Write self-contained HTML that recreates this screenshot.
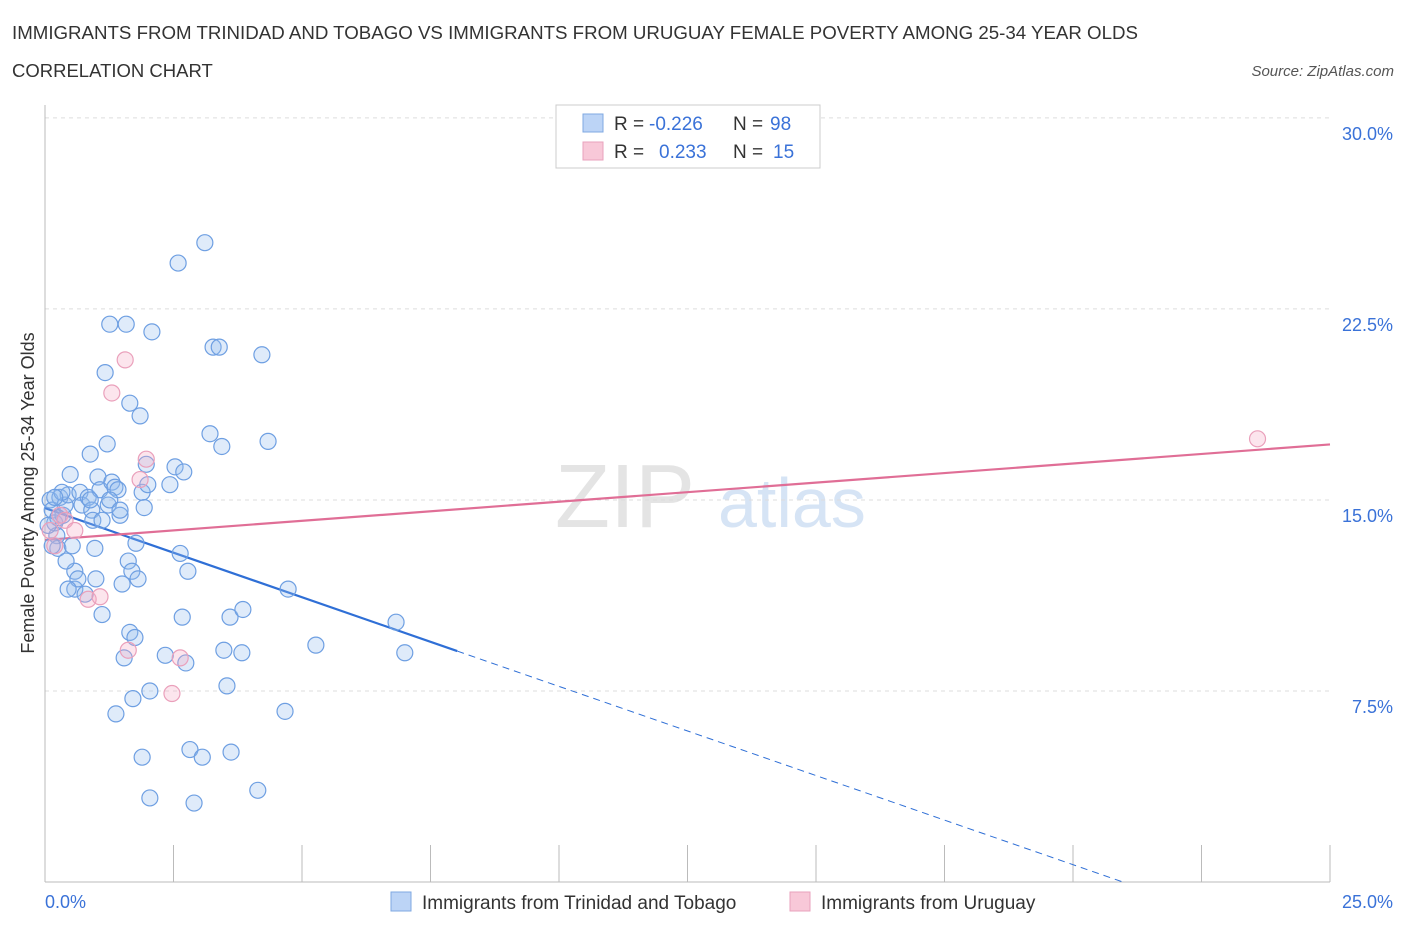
<!DOCTYPE html>
<html><head><meta charset="utf-8"><style>
body{margin:0;background:#fff;font-family:"Liberation Sans",sans-serif;}
svg text{font-family:"Liberation Sans",sans-serif;}
</style></head><body>
<svg id="chart" width="1406" height="930">
<text x="12" y="39" font-size="18.7" fill="#333">IMMIGRANTS FROM TRINIDAD AND TOBAGO VS IMMIGRANTS FROM URUGUAY FEMALE POVERTY AMONG 25-34 YEAR OLDS</text>
<text x="12" y="77" font-size="18.5" fill="#333">CORRELATION CHART</text>
<text x="1394" y="76" font-size="15" fill="#555" font-style="italic" text-anchor="end">Source: ZipAtlas.com</text>
<g><text x="555" y="527" font-size="90" fill="#e4e4e4" font-family="Liberation Serif">ZIP</text><text x="718" y="527" font-size="70" fill="#d6e4f5">atlas</text></g>
<g id="grid"></g><g id="axes"></g><g id="lines"></g><g id="pts"></g>
<text transform="translate(34,493) rotate(-90)" font-size="18" fill="#333" text-anchor="middle">Female Poverty Among 25-34 Year Olds</text>
<g>
<rect x="556" y="105" width="264" height="63" fill="#fff" stroke="#ccc"/>
<rect x="583" y="114" width="20" height="18" fill="#bcd4f6" stroke="#7fa8e2"/>
<rect x="583" y="142" width="20" height="18" fill="#f8c8d8" stroke="#e8a2bc"/>
<text x="614" y="130" font-size="19" fill="#333">R =</text>
<text x="649" y="130" font-size="19" fill="#3a72d8">-0.226</text>
<text x="733" y="130" font-size="19" fill="#333">N =</text>
<text x="770" y="130" font-size="19" fill="#3a72d8">98</text>
<text x="614" y="158" font-size="19" fill="#333">R =</text>
<text x="659" y="158" font-size="19" fill="#3a72d8">0.233</text>
<text x="733" y="158" font-size="19" fill="#333">N =</text>
<text x="773" y="158" font-size="19" fill="#3a72d8">15</text>
</g>
<g>
<rect x="391" y="892" width="20" height="19" fill="#bcd4f6" stroke="#7fa8e2"/>
<text x="422" y="909" font-size="19" fill="#333">Immigrants from Trinidad and Tobago</text>
<rect x="790" y="892" width="20" height="19" fill="#f8c8d8" stroke="#e8a2bc"/>
<text x="821" y="909" font-size="19" fill="#333">Immigrants from Uruguay</text>
</g>
</svg>
<script>
const yTicks=[7.5,15,22.5,30];
const yTickLabels=["7.5%","15.0%","22.5%","30.0%"];
const xTickLabels=["0.0%","25.0%"];
const blueX=[.10,.14,.19,.23,.25,.29,.35,.39,.45,.49,.53,.58,.58,.64,.68,.72,.78,.84,.88,.91,.97,.99,1.03,1.07,1.11,1.17,1.21,1.23,1.26,1.30,1.36,1.42,1.46,1.50,1.54,1.58,1.62,1.65,1.65,1.69,1.75,1.77,1.81,1.85,1.89,1.93,1.97,2.00,2.04,2.08,1.38,1.71,1.89,2.04,2.34,2.43,2.53,2.59,2.63,2.67,2.70,2.74,2.78,2.82,2.90,3.06,3.11,3.21,3.27,3.39,3.44,3.48,3.54,3.60,3.62,3.83,3.85,4.14,4.22,4.34,4.67,4.73,5.27,6.83,7.00,.14,.25,.33,.41,.88,.93,1.11,1.26,1.46,.45,.19,.06];
const blueY=[15.0,14.6,14.1,13.6,13.1,15.1,14.4,14.8,15.2,16.0,13.2,12.2,11.5,11.9,15.3,14.8,11.3,15.1,16.8,14.6,13.1,11.9,15.9,15.4,10.5,20.0,17.2,14.8,21.9,15.7,15.5,15.4,14.4,11.7,8.8,21.9,12.6,18.8,9.8,12.2,9.6,13.3,11.9,18.3,15.3,14.7,16.4,15.6,7.5,21.6,6.6,7.2,4.9,3.3,8.9,15.6,16.3,24.3,12.9,10.4,16.1,8.6,12.2,5.2,3.1,4.9,25.1,17.6,21.0,21.0,17.1,9.1,7.7,10.4,5.1,9.0,10.7,3.6,20.7,17.3,6.7,11.5,9.3,10.2,9.0,13.2,14.3,15.3,12.6,15.0,14.2,14.2,15.0,14.6,11.5,15.1,14.0];
const pinkX=[.10,.19,.29,.39,.58,.84,1.07,1.30,1.56,1.62,1.85,1.97,2.47,2.63,23.59];
const pinkY=[13.8,13.2,14.4,14.2,13.8,11.1,11.2,19.2,20.5,9.1,15.8,16.6,7.4,8.8,17.4];
const blueTrend=[14.68,-0.70];
const blueTrendEnd=[8.02];
const pinkTrend=[13.43,0.15];
const X0=45,X1=1330,YB=882;
const sx=v=>X0+v*(X1-X0)/25;
const sy=v=>YB-v*25.47;
const NS="http://www.w3.org/2000/svg";
function mk(tag,attrs,parent){const e=document.createElementNS(NS,tag);for(const k in attrs)e.setAttribute(k,attrs[k]);document.getElementById(parent).appendChild(e);return e;}
yTicks.forEach((v,i)=>{
 const g=mk('line',{x1:X0,x2:X1,y1:sy(v),y2:sy(v),stroke:'#ddd','stroke-dasharray':'4,4'},'grid');
 
 
 const t=mk('text',{x:1393,y:sy(v)+22,'font-size':18,fill:'#3a72d8','text-anchor':'end'},'grid');
 t.textContent=yTickLabels[i];
 
 
});
const ya=mk('line',{x1:X0,x2:X0,y1:105,y2:YB,stroke:'#bbb'},'axes');


const xa=mk('line',{x1:X0,x2:X1,y1:YB,y2:YB,stroke:'#bbb'},'axes');


for(let i=0;i<=10;i++){
 const tk=mk('line',{x1:sx(i*2.5),x2:sx(i*2.5),y1:845,y2:YB,stroke:'#bbb'},'axes');
 
 
}
[[0,'start',X0],[1,'end',1393]].forEach(([i,a,x])=>{
 const t=mk('text',{x:x,y:908,'font-size':18,fill:'#3a72d8','text-anchor':a},'axes');
 t.textContent=xTickLabels[i];
 
 
});
function pts(xs,ys,fill,stroke,name){xs.forEach((x,i)=>{
 const c=mk('circle',{cx:sx(x),cy:sy(ys[i]),r:8,fill:fill,stroke:stroke,'stroke-width':1.2},'pts');
 
 
});}
pts(blueX,blueY,'rgba(150,190,240,0.3)','#6e9fe2','blue-point');
pts(pinkX,pinkY,'rgba(245,170,195,0.3)','#eaa0bb','pink-point');
const bEnd=blueTrendEnd[0];
const bl=mk('line',{x1:sx(0),y1:sy(blueTrend[0]),x2:sx(bEnd),y2:sy(blueTrend[0]+blueTrend[1]*bEnd),stroke:'#2f6fd6','stroke-width':2.2},'lines');


const xz=-blueTrend[0]/blueTrend[1];
const bd=mk('line',{x1:sx(bEnd),y1:sy(blueTrend[0]+blueTrend[1]*bEnd),x2:sx(xz),y2:sy(0),stroke:'#2f6fd6','stroke-width':1,'stroke-dasharray':'7,5'},'lines');


const pl=mk('line',{x1:sx(0),y1:sy(pinkTrend[0]),x2:sx(25),y2:sy(pinkTrend[0]+pinkTrend[1]*25),stroke:'#e06e96','stroke-width':2.2},'lines');


</script>
</body></html>
